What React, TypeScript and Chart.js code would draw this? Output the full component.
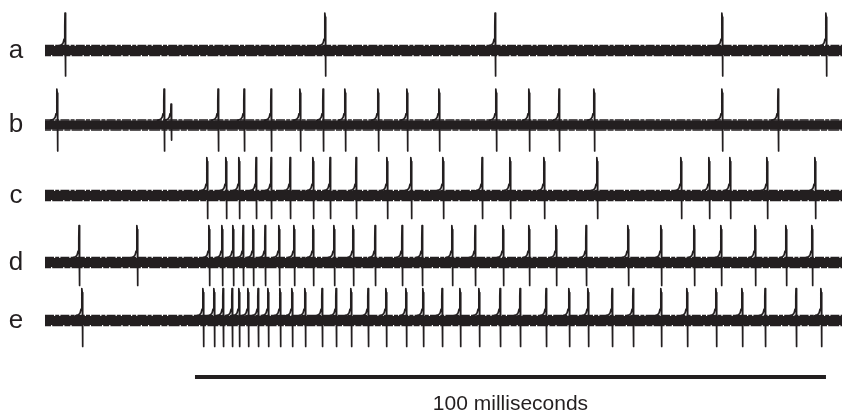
import { useEffect, useRef } from "react";
import { Chart, registerables } from "chart.js";

Chart.register(...registerables);

// ---- data (time in milliseconds from trace start) ----
const rowLabels = ["a", "b", "c", "d", "e"];

const spikesA = [3.17, 44.37, 71.32, 107.29, 123.77];
const spikesB = [
  1.9, 18.86, 27.42, 31.54, 35.82, 40.41, 44.06, 47.54, 52.77, 57.37, 62.44,
  71.47, 76.7, 81.46, 87.0, 107.29, 116.17,
];
const smallSpikesB = [19.97];
const spikesC = [
  25.67, 28.68, 30.74, 33.44, 35.82, 38.83, 42.47, 45.17, 49.29, 54.2, 58.0,
  63.07, 69.26, 73.69, 79.08, 87.48, 100.79, 105.23, 108.56, 114.42, 122.03,
];
const spikesD = [
  5.39, 14.58, 25.99, 28.05, 29.79, 31.38, 32.96, 34.87, 37.08, 39.46, 42.47,
  45.8, 48.81, 52.3, 56.58, 59.75, 64.5, 68.15, 72.58, 76.7, 80.98, 85.74,
  92.39, 97.62, 102.85, 107.13, 112.52, 117.43, 121.55,
];
const spikesE = [
  5.86, 25.04, 26.78, 28.21, 29.64, 30.74, 32.17, 33.76, 35.34, 37.24, 39.14,
  41.2, 43.9, 46.12, 48.49, 51.19, 54.04, 57.21, 59.9, 62.92, 65.77, 68.78,
  72.11, 75.28, 79.4, 83.04, 86.05, 89.86, 93.19, 97.62, 101.74, 106.34,
  110.46, 114.11, 119.02, 122.98,
];
const allSpikes = [spikesA, spikesB, spikesC, spikesD, spikesE];

const traceStart = 0;
const traceEnd = 126.31;
const scaleBarStart = 23.77;
const scaleBarLength = 100;
const scaleBarLabel = "100 milliseconds";

// ---- layout / style ----
const PX_PER_MS = 6.31;
const rowBaseY = [50.5, 125, 195.5, 262.5, 320.5];
const upAmp = [37.5, 36, 38, 37, 32];
const downAmp = [25.5, 26, 23, 23, 26];
const INK = "#231f20";
const FONT = "'Liberation Sans', Arial, Helvetica, sans-serif";

type P = { x: number; y: number | null };

function spikePoints(t: number, base: number, up: number, down: number, s = 1): P[] {
  const k = 1 / PX_PER_MS;
  return [
    { x: t - 6.5 * k, y: base - 4.6 },
    { x: t - 3.5 * k, y: base - 5.6 },
    { x: t - 1.8 * k, y: base - 7.8 },
    { x: t - 0.9 * k, y: base - 11.5 },
    { x: t - 0.35 * k, y: base - 17 * s },
    { x: t - 0.1 * k, y: base - 24 * s },
    { x: t, y: base - up * s },
    { x: t + 0.3 * k, y: base - up * s + 4 },
    { x: t + 0.6 * k, y: base + down * s },
    { x: t + 0.85 * k, y: base + 4 },
    { x: t + 1 * k, y: null },
  ];
}

export default function App() {
  const ref = useRef<HTMLCanvasElement | null>(null);

  useEffect(() => {
    document.body.style.margin = "0";
    if (!ref.current) return;

    const datasets: any[] = [];
    rowLabels.forEach((_, i) => {
      const base = rowBaseY[i];
      datasets.push({
        data: [
          { x: traceStart, y: base },
          { x: traceEnd, y: base },
        ],
        borderColor: INK,
        borderWidth: 9,
        pointRadius: 0,
        borderCapStyle: "butt",
      });
      [-5, 5].forEach((off, j) => {
        datasets.push({
          data: [
            { x: traceStart, y: base + off },
            { x: traceEnd, y: base + off },
          ],
          borderColor: INK,
          borderWidth: 1.3,
          borderDash: j === 0 ? [9, 1.2, 4, 1.2] : [6, 1.2, 11, 1.2],
          pointRadius: 0,
        });
      });
      const pts: P[] = [];
      allSpikes[i].forEach((t) => pts.push(...spikePoints(t, base, upAmp[i], downAmp[i])));
      if (i === 1) {
        smallSpikesB.forEach((t) => pts.push(...spikePoints(t, base, upAmp[i], downAmp[i], 0.58)));
      }
      datasets.push({
        data: pts,
        borderColor: INK,
        borderWidth: 1.7,
        pointRadius: 0,
        spanGaps: false,
        borderJoinStyle: "round",
        borderCapStyle: "round",
      });
    });
    datasets.push({
      data: [
        { x: scaleBarStart, y: 377 },
        { x: scaleBarStart + scaleBarLength, y: 377 },
      ],
      borderColor: INK,
      borderWidth: 4,
      pointRadius: 0,
      borderCapStyle: "butt",
    });

    const textPlugin = {
      id: "texts",
      afterDraw(chart: any) {
        const { ctx, scales } = chart;
        const xs = scales.x;
        const ys = scales.y;
        ctx.save();
        ctx.fillStyle = INK;
        ctx.textAlign = "center";
        ctx.textBaseline = "alphabetic";
        ctx.font = `26px ${FONT}`;
        rowLabels.forEach((lab, i) => {
          ctx.fillText(lab, 16, ys.getPixelForValue(rowBaseY[i]) + 7);
        });
        ctx.font = `21px ${FONT}`;
        ctx.fillText(scaleBarLabel, xs.getPixelForValue(scaleBarStart + scaleBarLength / 2), 410);
        ctx.restore();
      },
    };

    const chart = new Chart(ref.current, {
      type: "line",
      data: { datasets },
      options: {
        animation: false,
        responsive: true,
        maintainAspectRatio: false,
        layout: { padding: 0 },
        parsing: false as any,
        normalized: true,
        elements: { line: { tension: 0 } },
        scales: {
          x: {
            type: "linear",
            display: false,
            min: traceStart - 45 / PX_PER_MS,
            max: traceEnd,
          },
          y: { type: "linear", display: false, min: 0, max: 411, reverse: true },
        },
        plugins: {
          legend: { display: false },
          tooltip: { enabled: false },
          title: { display: false },
        },
        datasets: { line: { clip: false } as any },
      },
      plugins: [textPlugin],
    });
    return () => chart.destroy();
  }, []);

  return (
    <div style={{ width: 842, height: 411, position: "relative", background: "#fff" }}>
      <canvas ref={ref} />
    </div>
  );
}
